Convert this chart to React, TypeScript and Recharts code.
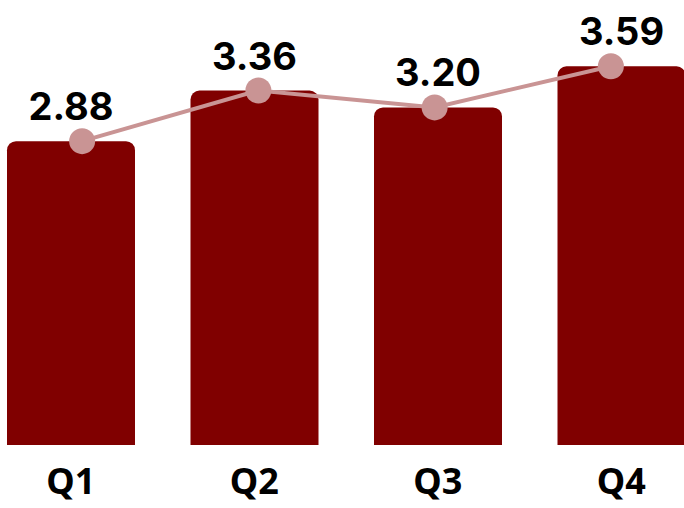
import { ComposedChart, Bar, Line, XAxis, YAxis, LabelList } from 'recharts';

const quarters = ['Q1', 'Q2', 'Q3', 'Q4'];
const barValues = [2.88, 3.36, 3.2, 3.59];
const lineValues = [2.88, 3.36, 3.2, 3.59];

const data = quarters.map((q, i) => ({
  quarter: q,
  bar: barValues[i],
  line: lineValues[i],
}));

const TICK_FONT = '"Noto Sans", sans-serif';
const LABEL_FONT = 'Inter, sans-serif';

export default function App() {
  return (
    <div
      style={{
        position: 'fixed',
        top: 0,
        left: 0,
        width: 684,
        height: 508,
        overflow: 'hidden',
        background: '#fff',
      }}
    >
      <div style={{ position: 'absolute', left: -21, top: 0 }}>
        <ComposedChart
          width={734}
          height={508}
          data={data}
          margin={{ top: 23, right: 0, bottom: 0, left: 0 }}
        >
          <XAxis
            dataKey="quarter"
            xAxisId="bars"
            axisLine={false}
            tickLine={false}
            tickSize={0}
            tickMargin={23}
            height={63}
            interval={0}
            tick={{ fill: '#000', fontSize: 36, fontWeight: 700, fontFamily: TICK_FONT }}
          />
          <XAxis
            dataKey="quarter"
            xAxisId="line"
            hide
            padding={{ left: 15, right: 14 }}
          />
          <YAxis hide domain={[0, 4]} />
          <Bar
            dataKey="bar"
            xAxisId="bars"
            fill="#800000"
            barSize={128}
            radius={[9, 9, 0, 0]}
            isAnimationActive={false}
          >
            <LabelList
              dataKey="bar"
              position="top"
              offset={21}
              formatter={(v: number) => v.toFixed(2)}
              style={{ fill: '#000', fontSize: 38, fontWeight: 700, fontFamily: LABEL_FONT }}
            />
          </Bar>
          <Line
            dataKey="line"
            xAxisId="line"
            stroke="#c99494"
            strokeWidth={4}
            dot={{ r: 13, fill: '#c99494', stroke: '#c99494', strokeWidth: 0 }}
            activeDot={false}
            isAnimationActive={false}
          />
        </ComposedChart>
      </div>
    </div>
  );
}
